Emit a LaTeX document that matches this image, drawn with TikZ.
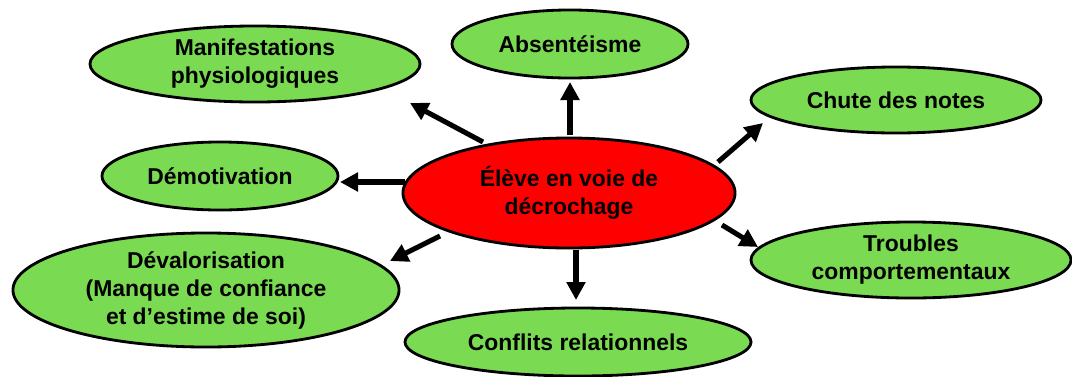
\documentclass[tikz,border=0pt]{standalone}
\usepackage{fontspec}
\setmainfont{Liberation Sans}
\usetikzlibrary{shapes.geometric,arrows.meta}
\definecolor{vert}{RGB}{122,219,82}
\tikzset{
  bulle/.style={ellipse,draw=black,line width=2pt,fill=vert,inner sep=0pt,
    align=center,font=\fontsize{16.3}{19.9}\selectfont\bfseries},
  fleche/.style={line width=3.6pt,-{Triangle[length=12.8pt,width=13pt]}}
}
\begin{document}
\begin{tikzpicture}[x=0.025cm,y=-0.025cm]
    \useasboundingbox (0,0) rectangle (1072,376);
    % Elipses
    \node[bulle,fill=red,minimum width=8.3cm,minimum height=2.75cm] (eleve) at (569,193) {Élève en voie de\\décrochage};
    \node[bulle,minimum width=8.25cm,minimum height=1.9cm] (manif) at (255,64) {Manifestations\\physiologiques};
    \node[bulle,minimum width=5.9cm,minimum height=1.7cm] (abs) at (570,44) {Absentéisme};
    \node[bulle,minimum width=7.25cm,minimum height=1.65cm] (chute) at (896,100) {Chute des notes};
    \node[bulle,minimum width=5.9cm,minimum height=1.7cm] (demot) at (220,176) {Démotivation};
    \node[bulle,minimum width=9.65cm,minimum height=2.85cm] (deval) at (206,290) {Dévalorisation\\(Manque de confiance\\et d’estime de soi)};
    \node[bulle,minimum width=8.65cm,minimum height=1.7cm] (confl) at (578,342) {Conflits relationnels};
    \node[bulle,minimum width=8cm,minimum height=1.9cm] (troub) at (911,260) {Troubles\\comportementaux};
    % Flèches
    \coordinate (m0) at (483,142); \coordinate (m1) at (410,103);
    \coordinate (a0) at (570,135); \coordinate (a1) at (570,82);
    \coordinate (c0) at (718,162); \coordinate (c1) at (763,123);
    \coordinate (d0) at (405,182); \coordinate (d1) at (340,182);
    \coordinate (v0) at (440,236); \coordinate (v1) at (390,261);
    \coordinate (r0) at (576,250); \coordinate (r1) at (576,300);
    \coordinate (t0) at (722,225); \coordinate (t1) at (758,247);
    \draw[fleche] (m0) -- (m1);
    \draw[fleche] (a0) -- (a1);
    \draw[fleche] (c0) -- (c1);
    \draw[fleche] (d0) -- (d1);
    \draw[fleche] (v0) -- (v1);
    \draw[fleche] (r0) -- (r1);
    \draw[fleche] (t0) -- (t1);
  \end{tikzpicture}
\end{document}
